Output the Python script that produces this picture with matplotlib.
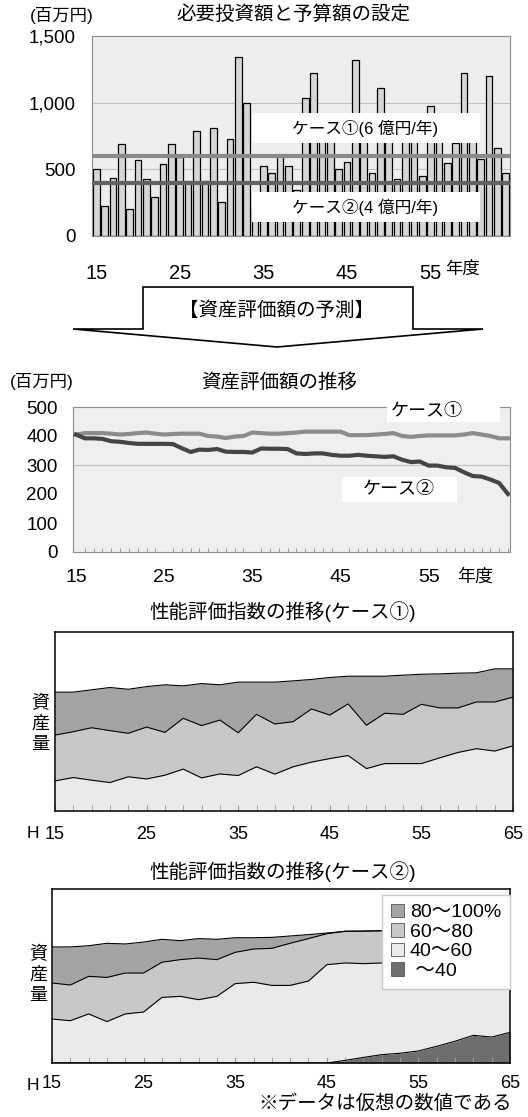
import numpy as np
import matplotlib
matplotlib.use('Agg')
import matplotlib.pyplot as plt
from matplotlib.patches import Rectangle, Polygon, Patch

plt.rcParams['font.family'] = ['Liberation Sans', 'Noto Sans CJK JP']

W, H = 528, 1117

# 必要投資額 (百万円) 15~64年度
invest_years = np.arange(15, 65)
invest = [500, 225, 437, 690, 200, 570, 427, 295, 537, 690,
          592, 415, 785, 410, 810, 257, 727, 1345, 1000, 200,
          525, 475, 605, 525, 345, 1035, 1225, 810, 770, 500,
          557, 1320, 800, 470, 1107, 760, 425, 820, 780, 450,
          975, 740, 550, 700, 1220, 790, 575, 1200, 662, 470]
budget1 = 600   # ケース①
budget2 = 400   # ケース②

# 資産評価額 (百万円)
value_years = np.arange(15, 65)
value_case1 = [405, 410, 410, 410, 408, 405, 407, 410, 412, 408,
               405, 407, 408, 408, 408, 400, 398, 393, 398, 400,
               412, 410, 408, 408, 410, 412, 415, 415, 415, 415,
               415, 403, 403, 403, 405, 407, 410, 400, 397, 400,
               402, 402, 402, 402, 405, 410, 405, 400, 392, 392]
value_case2 = [405, 392, 392, 390, 382, 380, 376, 373, 373, 373,
               373, 372, 358, 345, 353, 352, 355, 346, 345, 345,
               343, 357, 356, 356, 355, 340, 338, 340, 340, 335,
               332, 332, 335, 332, 330, 328, 330, 318, 310, 312,
               298, 298, 292, 290, 275, 262, 260, 250, 238, 200]

# 性能評価指数 (2年毎, 資産量の内訳)
index_years = np.arange(15, 66, 2)
c1_40_60 = [16.8, 18.7, 17.2, 15.9, 19.1, 17.9, 20.0, 23.4, 18.5, 20.7, 19.8, 24.7, 20.6,
            24.7, 27.3, 29.3, 31.0, 23.7, 26.5, 26.5, 26.5, 29.7, 32.7, 34.8, 33.5, 36.4]
c1_60_80 = [25.6, 25.6, 29.3, 29.0, 24.3, 29.0, 23.9, 28.4, 29.2, 30.1, 23.9, 29.3, 28.0,
            25.2, 29.7, 24.3, 28.8, 24.2, 28.1, 27.5, 33.1, 27.9, 24.9, 26.1, 27.4, 27.2]
c1_80_100 = [24.0, 22.1, 21.2, 24.1, 24.6, 22.6, 26.6, 18.1, 23.5, 19.7, 28.3, 18.0, 23.4,
             22.8, 16.5, 21.0, 15.5, 27.4, 20.7, 21.9, 16.8, 19.0, 19.4, 16.3, 18.5, 15.8]

c2_under40 = [0, 0, 0, 0, 0, 0, 0, 0, 0, 0, 0, 0, 0,
              0, 0, 0, 1.5, 3.2, 4.8, 5.6, 6.9, 9.6, 12.5, 15.9, 14.9, 17.6]
c2_40_60 = [25.3, 24.3, 28.2, 23.8, 28.2, 29.3, 37.7, 38.3, 36.4, 38.3, 45.6, 46.4, 44.6,
            44.6, 47.1, 56.5, 56.0, 53.9, 52.7, 52.4, 51.1, 48.9, 46.5, 43.1, 44.6, 42.4]
c2_60_80 = [20.7, 20.5, 21.6, 25.4, 23.5, 22.4, 20.2, 21.1, 23.9, 21.1, 18.0, 19.1, 21.3,
            24.2, 24.4, 17.8, 18.2, 18.7, 18.5, 18.0, 18.2, 17.9, 17.6, 17.8, 17.5, 17.0]
c2_80_100 = [20.7, 21.9, 17.6, 19.6, 16.7, 17.8, 13.2, 10.9, 11.2, 11.7, 8.4, 6.5, 6.3,
             4.2, 2.3, 0.4, 0, 0, 0, 0, 0, 0, 0, 0, 0, 0]

index_labels = ['80～100%', '60～80', '40～60', ' ～40']
index_colors = ['#a4a4a4', '#c8c8c8', '#eaeaea', '#6e6e6e']

fig = plt.figure(figsize=(W / 100, H / 100), dpi=100)


def px_axes(x0, y0, x1, y1):
    return fig.add_axes([x0 / W, 1 - y1 / H, (x1 - x0) / W, (y1 - y0) / H])


def ftext(x, y, s, **kw):
    kw.setdefault('ha', 'center')
    kw.setdefault('va', 'center')
    fig.text(x / W, 1 - y / H, s, **kw)


# ---- 必要投資額と予算額の設定 ----
ax1 = px_axes(92, 36, 510, 236)
ax1.set_facecolor('#eeeeee')
ax1.bar(invest_years, invest, width=0.8, color='#d6d6d6', edgecolor='black',
        linewidth=0.9, zorder=2)
for v in (500, 1000):
    ax1.axhline(v, color='#c2c2c2', lw=0.8, zorder=1)
ax1.axhline(budget1, color='#8a8a8a', lw=3, zorder=4)
ax1.axhline(budget2, color='#626262', lw=3, zorder=4)
ax1.add_patch(Rectangle((0.383, 0.465), 0.545, 0.15, transform=ax1.transAxes,
                        facecolor='white', edgecolor='none', zorder=3))
ax1.add_patch(Rectangle((0.383, 0.07), 0.545, 0.15, transform=ax1.transAxes,
                        facecolor='white', edgecolor='none', zorder=3))
ax1.text(0.653, 0.54, 'ケース①(6 億円/年)', transform=ax1.transAxes,
         ha='center', va='center', fontsize=12, zorder=5)
ax1.text(0.653, 0.145, 'ケース②(4 億円/年)', transform=ax1.transAxes,
         ha='center', va='center', fontsize=12, zorder=5)
ax1.set_xlim(14.5, 64.5)
ax1.set_ylim(0, 1500)
ax1.set_yticks([0, 500, 1000, 1500])
ax1.set_yticklabels(['0', '500', '1,000', '1,500'])
ax1.set_xticks([15, 25, 35, 45, 55])
ax1.tick_params(axis='y', length=0, labelsize=13.5, pad=12)
ax1.tick_params(axis='x', length=0, labelsize=14.5, pad=20)
for s in ax1.spines.values():
    s.set_color('#8c8c8c')
ftext(62, 15, '(百万円)', fontsize=12.5)
ftext(293, 15, '必要投資額と予算額の設定', fontsize=14)
ftext(463, 269, '年度', fontsize=12.5)

# ---- 矢印 ----
arrow_px = [(143, 287), (413, 287), (413, 329), (483, 329), (277, 347),
            (73, 329), (143, 329)]
arrow = Polygon([(x / W, 1 - y / H) for x, y in arrow_px], closed=True,
                transform=fig.transFigure, facecolor='white', edgecolor='black',
                linewidth=1.2)
fig.add_artist(arrow)
ftext(277, 311, '【資産評価額の予測】', fontsize=14)

# ---- 資産評価額の推移 ----
ax2 = px_axes(73, 407, 510, 552)
ax2.set_facecolor('#efefef')
ax2.axhline(300, color='#c2c2c2', lw=0.8, zorder=1)
ax2.plot(value_years, value_case1, color='#8c8c8c', lw=3, zorder=3)
ax2.plot(value_years, value_case2, color='#454545', lw=3, zorder=3)
ax2.add_patch(Rectangle((0.719, 0.897), 0.258, 0.131, transform=ax2.transAxes,
                        facecolor='white', edgecolor='none', zorder=4, clip_on=False))
ax2.add_patch(Rectangle((0.616, 0.345), 0.263, 0.172, transform=ax2.transAxes,
                        facecolor='white', edgecolor='none', zorder=2))
ax2.text(0.81, 0.966, 'ケース①', transform=ax2.transAxes, ha='center', va='center',
         fontsize=13, zorder=5)
ax2.text(0.745, 0.428, 'ケース②', transform=ax2.transAxes, ha='center', va='center',
         fontsize=13, zorder=5)
ax2.set_xlim(14.66, 64.23)
ax2.set_ylim(0, 500)
ax2.set_yticks(range(0, 501, 100))
ax2.set_xticks([15, 25, 35, 45, 55])
ax2.set_xticks(range(15, 65), minor=True)
ax2.tick_params(axis='y', length=0, labelsize=13.5, pad=11)
ax2.tick_params(axis='x', which='major', length=0, labelsize=14, pad=12)
ax2.tick_params(axis='x', which='minor', direction='in', length=3, color='#8c8c8c')
for s in ax2.spines.values():
    s.set_color('#8c8c8c')
ftext(42, 382, '(百万円)', fontsize=12.5)
ftext(279, 383, '資産評価額の推移', fontsize=14)
ftext(475, 577, '年度', fontsize=13)


# ---- 性能評価指数の推移 ----
def draw_index(ax, layers, colors):
    base = np.zeros(len(index_years))
    for layer, c in zip(layers, colors):
        top = base + np.array(layer)
        ax.fill_between(index_years, base, top, color=c, lw=0, zorder=1)
        ax.plot(index_years, top, color='black', lw=0.8, zorder=2)
        base = top
    ax.set_xlim(15, 65)
    ax.set_ylim(0, 100)
    ax.set_yticks([])
    ax.set_xticks([15, 25, 35, 45, 55, 65])
    ax.set_xticks(index_years, minor=True)
    ax.tick_params(axis='x', which='both', direction='in', length=4, color='#9a9a9a',
                   labelsize=13)
    for s in ax.spines.values():
        s.set_color('black')
        s.set_linewidth(1.1)
        s.set_zorder(3)


ax3 = px_axes(55, 632, 513, 811)
draw_index(ax3, [c1_40_60, c1_60_80, c1_80_100], index_colors[2::-1])
ax3.tick_params(axis='x', pad=11)
ftext(283, 612, '性能評価指数の推移(ケース①)', fontsize=14)
ftext(40, 724, '資\n産\n量', fontsize=13, linespacing=1.3)
ftext(33, 833, 'H', fontsize=12.5)

ax4 = px_axes(52, 889, 510, 1063)
draw_index(ax4, [c2_under40, c2_40_60, c2_60_80, c2_80_100], index_colors[::-1])
ax4.tick_params(axis='x', pad=9)
handles = [Patch(facecolor=c, edgecolor='#555555', linewidth=0.6) for c in index_colors]
ax4.legend(handles, index_labels, loc='upper right', bbox_to_anchor=(1.0, 0.966),
           fontsize=14, frameon=True, fancybox=False, edgecolor='#c8c8c8',
           framealpha=1, handlelength=0.7, handleheight=0.7, handletextpad=0.3,
           labelspacing=0.1, borderpad=0.45, borderaxespad=0)
ftext(283, 872, '性能評価指数の推移(ケース②)', fontsize=14)
ftext(38, 975, '資\n産\n量', fontsize=13, linespacing=1.3)
ftext(33, 1085, 'H', fontsize=12.5)
ftext(512, 1104, '※データは仮想の数値である', fontsize=14, ha='right')

fig.savefig('out.png', dpi=100)
